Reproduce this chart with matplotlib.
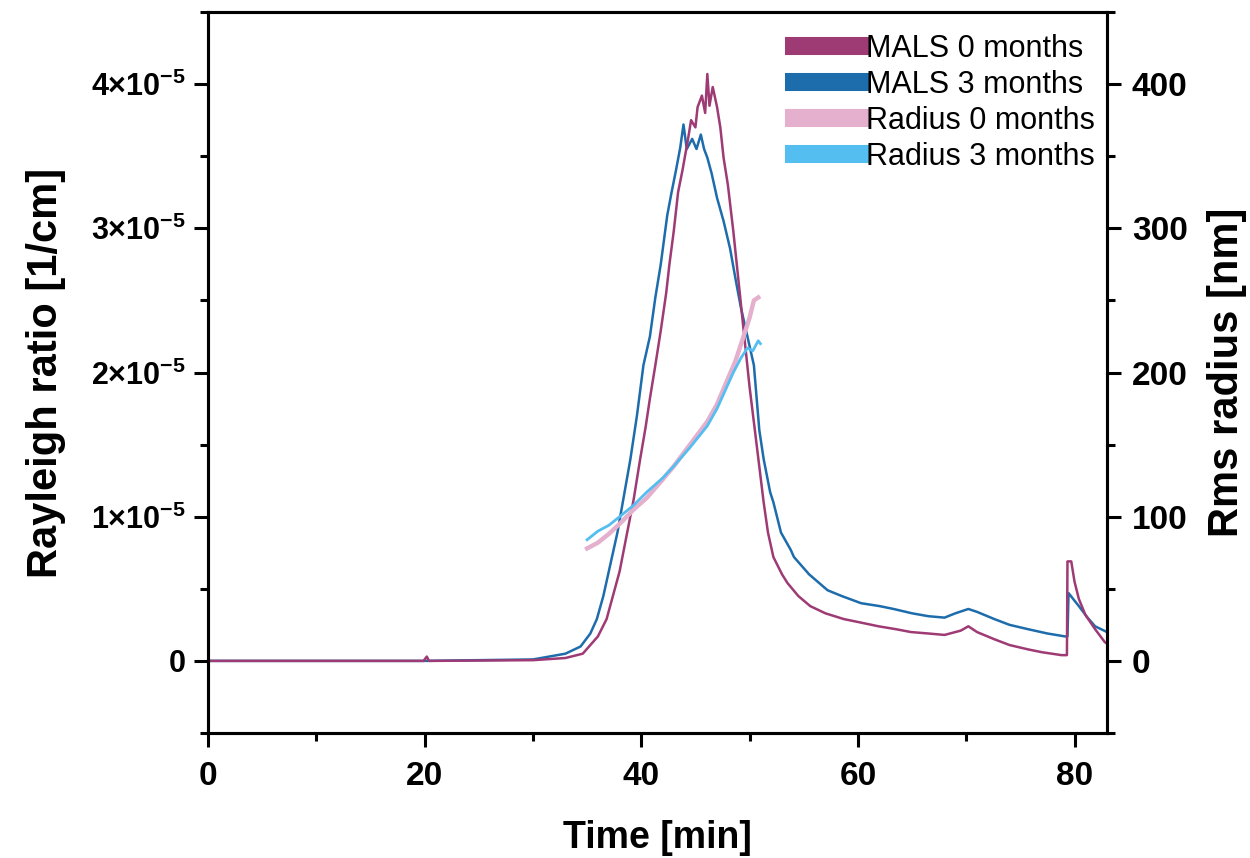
import matplotlib
matplotlib.use("Agg")
import matplotlib.pyplot as plt
import numpy as np
from matplotlib.ticker import MultipleLocator, FixedLocator, FuncFormatter

plt.rcParams['font.family'] = ['Liberation Sans', 'DejaVu Sans']
plt.rcParams['mathtext.fontset'] = 'custom'
plt.rcParams['mathtext.rm'] = 'Liberation Sans'
plt.rcParams['mathtext.bf'] = 'Liberation Sans:bold'

# MALS signal, Rayleigh ratio in units of 1e-5 1/cm
t_mals0 = [0, 10, 19.9, 20.2, 20.4, 30, 33, 34.6, 36, 36.8, 38, 38.7, 39.3, 39.9, 40.4,
           40.8, 41.3, 41.8, 42.3, 42.6, 43.0, 43.4, 43.8, 44.3, 44.6, 45.0, 45.2, 45.6,
           45.9, 46.1, 46.3, 46.6, 47.0, 47.3, 47.6, 48.0, 48.5, 49.0, 49.4, 50.0, 50.7,
           51.3, 51.7, 52.2, 53.0, 53.5, 54.5, 55.6, 57, 58.7, 60, 61.9, 63.5, 64.9, 66.5,
           68.0, 69.5, 70.2, 71.0, 72.6, 74, 75.7, 77, 78.8, 79.3, 79.35, 79.7, 80.0, 80.4,
           81.0, 81.9, 82.8, 83.0]
mals0 = [0, 0, 0, 0.03, 0, 0.005, 0.02, 0.05, 0.17, 0.29, 0.62, 0.89, 1.12, 1.40, 1.62,
         1.82, 2.05, 2.29, 2.55, 2.75, 2.98, 3.25, 3.40, 3.61, 3.75, 3.70, 3.84, 3.92,
         3.80, 4.07, 3.85, 3.98, 3.84, 3.70, 3.49, 3.30, 2.98, 2.62, 2.33, 1.90, 1.47,
         1.10, 0.89, 0.72, 0.60, 0.54, 0.45, 0.38, 0.33, 0.29, 0.27, 0.24, 0.22, 0.20, 0.19,
         0.18, 0.21, 0.24, 0.20, 0.15, 0.11, 0.08, 0.06, 0.04, 0.04, 0.69, 0.69, 0.55, 0.43,
         0.32, 0.22, 0.13, 0.12]

t_mals3 = [0, 20, 30, 33, 34.4, 35.3, 35.9, 36.5, 37.8, 39.0, 39.6, 40.2, 40.8, 41.3, 41.8,
           42.4, 42.8, 43.2, 43.6, 43.9, 44.2, 44.7, 45.1, 45.5, 45.8, 46.1, 46.5, 47.0,
           47.6, 48.2, 48.7, 49.2, 49.8, 50.4, 50.9, 51.3, 51.9, 52.2, 52.9, 53.8, 54.1,
           55.5, 57.2, 58.5, 60.3, 62, 63.3, 65, 66.5, 68, 69, 70.2, 71, 72.6, 74, 75.7,
           77.5, 79.1, 79.35, 79.45, 80.4, 81.2, 81.9, 83]
mals3 = [0, 0, 0.01, 0.05, 0.10, 0.19, 0.29, 0.45, 0.89, 1.40, 1.70, 2.05, 2.25, 2.52, 2.75,
         3.09, 3.25, 3.40, 3.56, 3.72, 3.55, 3.62, 3.55, 3.65, 3.55, 3.49, 3.38, 3.21,
         3.05, 2.86, 2.65, 2.45, 2.25, 2.05, 1.60, 1.40, 1.17, 1.10, 0.89, 0.77, 0.72,
         0.60, 0.49, 0.45, 0.40, 0.38, 0.36, 0.33, 0.31, 0.30, 0.33, 0.36, 0.34, 0.29, 0.25,
         0.22, 0.19, 0.17, 0.17, 0.47, 0.38, 0.30, 0.24, 0.20]

# rms radius in nm
t_rad0 = [35.0, 36, 37, 38, 39.3, 40.5, 42, 43, 44.5, 46.1, 47, 47.9, 48.7, 49.4, 50, 50.4, 50.8]
rad0 = [78, 82, 88, 95, 105, 113, 126, 135, 150, 166, 178, 194, 208, 224, 238, 250, 252]

t_rad3 = [35.0, 36, 37, 38, 39.3, 40.5, 42, 43, 44.5, 46.1, 47, 48.5, 49.2, 49.8, 50.3, 50.8, 51.0]
rad3 = [84, 90, 94, 100, 108, 117, 127, 135, 148, 163, 175, 200, 210, 217, 215, 222, 220]

c_mals0 = '#9E3A74'
c_mals3 = '#1D6CAB'
c_rad0 = '#E4B0CE'
c_rad3 = '#55BEF0'

fig = plt.figure(figsize=(12.5, 8.58), dpi=100)
ax = fig.add_axes([0.1664, 0.1457, 0.7192, 0.8403])
ax2 = ax.twinx()

ax.plot(t_mals3, np.array(mals3) * 1e-5, color=c_mals3, lw=1.8)
ax.plot(t_mals0, np.array(mals0) * 1e-5, color=c_mals0, lw=1.8)
ax2.plot(t_rad0, rad0, color=c_rad0, lw=3.2)
ax2.plot(t_rad3, rad3, color=c_rad3, lw=2.0)

ax.set_xlim(0, 83)
ax.set_ylim(-0.5e-5, 4.5e-5)
ax2.set_ylim(-50, 450)

ax.xaxis.set_major_locator(MultipleLocator(20))
ax.xaxis.set_minor_locator(MultipleLocator(10))
ax.yaxis.set_major_locator(FixedLocator([0, 1e-5, 2e-5, 3e-5, 4e-5]))
ax.yaxis.set_minor_locator(MultipleLocator(0.5e-5))
ax2.yaxis.set_major_locator(FixedLocator([0, 100, 200, 300, 400]))
ax2.yaxis.set_minor_locator(MultipleLocator(50))


def sci_fmt(v, pos):
    n = int(round(v * 1e5))
    if n == 0:
        return r'$\mathbf{0}$'
    return r'$\mathbf{%d{\times}10^{-5}}$' % n


ax.yaxis.set_major_formatter(FuncFormatter(sci_fmt))

for a in (ax, ax2):
    for s in a.spines.values():
        s.set_linewidth(2.2)
    a.tick_params(which='major', direction='out', length=10, width=2.2, labelsize=24)
    a.tick_params(which='minor', direction='out', length=6, width=2.2)
ax.tick_params(axis='y', labelsize=22, pad=6)
ax.tick_params(axis='x', pad=10)
ax2.tick_params(axis='y', pad=8)
for lab in ax.get_xticklabels() + ax2.get_yticklabels():
    lab.set_fontweight('bold')

ax.set_xlabel('Time [min]', fontsize=27, fontweight='bold', labelpad=20)
ax.set_ylabel('Rayleigh ratio [1/cm]', fontsize=30, fontweight='bold', labelpad=18)
ax2.set_ylabel('Rms radius [nm]', fontsize=30, fontweight='bold', labelpad=14)

handles = [plt.Line2D([], [], color=c, lw=13) for c in (c_mals0, c_mals3, c_rad0, c_rad3)]
labels = ['MALS 0 months', 'MALS 3 months', 'Radius 0 months', 'Radius 3 months']
ax2.legend(handles, labels, loc='upper right', frameon=False, fontsize=22,
           handlelength=2.2, handletextpad=0.15, labelspacing=0.2,
           borderaxespad=0.0, bbox_to_anchor=(1.0, 0.987))

fig.savefig('out.png', dpi=100)
